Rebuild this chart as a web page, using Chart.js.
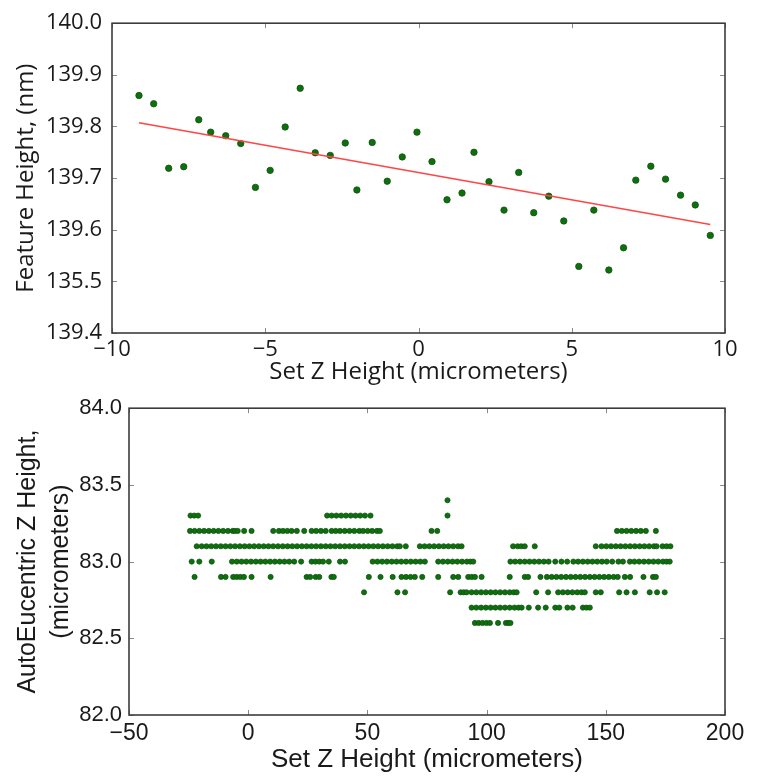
<!DOCTYPE html>
<html lang="en">
<head>
<meta charset="UTF-8">
<title>Z height charts</title>
<script src="https://cdn.jsdelivr.net/npm/chart.js"></script>
<style>
  body { margin: 0; background: #fff; }
  canvas { display: block; }
</style>
</head>
<body>
<canvas id="topChart" width="760" height="388"></canvas>
<canvas id="bottomChart" width="760" height="388"></canvas>

<script>
// ---- top panel: feature height vs set Z ----
const topX = [-9.12, -8.64, -8.15, -7.66, -7.17, -6.78, -6.29, -5.80, -5.32, -4.84,
  -4.35, -3.86, -3.37, -2.88, -2.39, -2.01, -1.51, -1.02, -0.53, -0.05,
  0.44, 0.93, 1.42, 1.81, 2.30, 2.79, 3.27, 3.76, 4.25, 4.74,
  5.23, 5.72, 6.21, 6.69, 7.09, 7.58, 8.06, 8.55, 9.03, 9.52]
const topY = [139.860, 139.844, 139.719, 139.722, 139.813, 139.789, 139.782, 139.767, 139.682, 139.715,
  139.799, 139.874, 139.749, 139.744, 139.768, 139.677, 139.769, 139.694, 139.741, 139.789,
  139.732, 139.658, 139.671, 139.750, 139.693, 139.638, 139.711, 139.633, 139.665, 139.617,
  139.529, 139.638, 139.522, 139.565, 139.696, 139.723, 139.698, 139.667, 139.648, 139.589]
const fitX = [-9.12, 9.52]
const fitY = [139.807, 139.610]

const topXTickVals = [-10, -5, 0, 5, 10]
const topXTickLabels = ['\u221210', '\u22125', '0', '5', '10']
const topYTickVals = [139.4, 139.5, 139.6, 139.7, 139.8, 139.9, 140.0]
const topYTickLabels = ['139.4', '135.5', '139.6', '139.7', '139.8', '139.9', '140.0']

// ---- bottom panel: AutoEucentric Z height, one list of set-Z values per height level ----
const levels = [83.4, 83.3, 83.2, 83.1, 83.0, 82.9, 82.8, 82.7, 82.6]
const lvl834 = [83.6]
const lvl833 = [-24.2, -22.6, -21, 33.1, 35, 37, 39, 41, 43, 45, 47, 49, 51.3, 83.6]
const lvl832 = [-24.4, -22.5, -20.5, -18.5, -16.5, -14.5, -12.5, -10.5, -8.5, -6.5, -5.6, -4.4, -1.7, 1.4,
  10.5, 12.9, 14.6, 16.4, 18.2, 20.4, 23.5, 26.6, 28.5, 30.5, 32.5, 35, 36.7, 38.5, 40.5, 42.5, 44.5, 46.6,
  48.2, 50.1, 52, 54, 55.2, 76.9, 79.3, 154.7, 156.7, 158.7, 160.7, 162.7, 164.7, 166.8, 171]
const lvl831 = [-21.6, -19.5, -17.5, -15.5, -13.5, -11.5, -9.5, -7.5, -5.5, -3.5, -1.5, 0.5, 2.5, 4.5, 6.5,
  8.5, 10.5, 12.5, 14.5, 16.5, 18.5, 20.5, 22.5, 24.5, 26.5, 28.5, 30.5, 32.5, 34.5, 36.5, 38.5, 40.5, 42.5,
  44.5, 46.5, 48.5, 50.5, 52.5, 54.5, 56.5, 58.5, 60.5, 62.5, 63.6, 66.1, 72, 74, 76, 78, 80, 82, 84, 86, 88,
  89.5, 111.1, 113, 114.5, 116, 120.2, 145.8, 148.2, 150.2, 152.2, 154.2, 156.2, 158.2, 160.2, 162.2, 164.2,
  166.2, 168.2, 170.2, 171.3, 173.8, 175.5, 177.1]
const lvl830 = [-23.7, -20.5, -15.3, -6.8, -4.8, -2.8, -0.8, 1.2, 3.2, 5.2, 7.2, 9.2, 11.2, 13.2, 15.2, 17.2,
  19.3, 22.2, 26.6, 28.2, 29.8, 31.4, 33.8, 38.5, 40.6, 52.2, 54.2, 56.2, 58.2, 60.2, 62.2, 64.2, 66.2, 68.2,
  70.2, 72.2, 74.1, 79.7, 81.7, 83.7, 85.7, 87.7, 89.7, 91.7, 93.2, 94.4, 110, 112, 114, 116, 118, 120, 122,
  124, 126, 128.8, 131.4, 133.8, 136.4, 138.4, 140.4, 142.4, 144.4, 146.4, 148.4, 150.4, 152.7, 155.3, 157.2,
  160.1, 162, 164, 166, 168, 170, 172, 174, 175.5, 176.8]
const lvl829 = [-22.5, -11.4, -9.5, -6.3, -4.8, -3.3, -1.8, 1.4, 9.4, 24.5, 26, 28.3, 29.8, 34.9, 35.9, 50.6,
  55.5, 60.6, 64.3, 66.2, 68.1, 69.9, 73, 79.7, 86, 88.1, 92.3, 93.7, 95.1, 97.9, 109.7, 116, 117.4, 122.6,
  125.3, 127.3, 129.3, 131.3, 133.3, 135.3, 137.3, 139.3, 141.3, 143.3, 145.3, 147.3, 149.3, 151.3, 153.3,
  155, 158, 160.2, 165.8, 169.8, 171]
const lvl828 = [48.6, 62.6, 65.8, 84.7, 89.1, 90.4, 91.6, 93.7, 95.7, 97.7, 99.7, 101.7, 103.7, 105.7, 107.7,
  109.7, 111.4, 112.6, 120.8, 125.8, 130, 132, 134, 136, 138, 139.8, 141.2, 145.8, 147.9, 155.6, 158.7, 162.2,
  168.4, 171.5, 174.7]
const lvl827 = [93.7, 95.7, 97.7, 99.7, 101.7, 103.7, 105.7, 107.7, 109.7, 111.7, 113.4, 114.7, 117.7, 121.6,
  124.8, 128.8, 130.5, 133.9, 136.1, 140.4, 141.9, 143.3]
const lvl826 = [95.1, 96.7, 98.3, 99.9, 101.4, 104.8, 108.1, 109.1, 110]
const levelLists = [lvl834, lvl833, lvl832, lvl831, lvl830, lvl829, lvl828, lvl827, lvl826]

const botXTickVals = [-50, 0, 50, 100, 150, 200]
const botXTickLabels = ['\u221250', '0', '50', '100', '150', '200']
const botYTickVals = [82.0, 82.5, 83.0, 83.5, 84.0]
const botYTickLabels = ['82.0', '82.5', '83.0', '83.5', '84.0']

// box around plot area plus small inward tick marks (matplotlib look)
const framePlugin = {
  id: 'frame',
  afterDatasetsDraw(chart) {
    const {ctx, chartArea: a, scales} = chart
    ctx.save()
    ctx.strokeStyle = '#8a8a8a'
    ctx.lineWidth = 1
    const len = 5
    scales.x.ticks.forEach(t => {
      const px = Math.round(scales.x.getPixelForValue(t.value)) + 0.5
      ctx.beginPath()
      ctx.moveTo(px, a.bottom); ctx.lineTo(px, a.bottom - len)
      ctx.moveTo(px, a.top); ctx.lineTo(px, a.top + len)
      ctx.stroke()
    })
    scales.y.ticks.forEach(t => {
      const py = Math.round(scales.y.getPixelForValue(t.value)) + 0.5
      ctx.beginPath()
      ctx.moveTo(a.left, py); ctx.lineTo(a.left + len, py)
      ctx.moveTo(a.right, py); ctx.lineTo(a.right - len, py)
      ctx.stroke()
    })
    ctx.strokeStyle = '#3c3c3c'
    ctx.lineWidth = 1.6
    ctx.strokeRect(a.left, a.top, a.right - a.left, a.bottom - a.top)
    ctx.restore()
  }
}

function fixedTicks(vals) {
  return scale => { scale.ticks = vals.map(v => ({value: v})) }
}

Chart.defaults.animation = false
Chart.defaults.color = '#1a1a1a'

// top chart
new Chart(document.getElementById('topChart'), {
  type: 'scatter',
  data: {
    datasets: [
      {
        type: 'line',
        data: fitX.map((x, i) => ({x: x, y: fitY[i]})),
        borderColor: '#ff4545',
        borderWidth: 1.5,
        pointRadius: 0,
        order: 0
      },
      {
        data: topX.map((x, i) => ({x: x, y: topY[i]})),
        backgroundColor: '#0b720b',
        borderColor: '#164d16',
        borderWidth: 0.8,
        pointRadius: 3.2,
        order: 1
      }
    ]
  },
  options: {
    responsive: false,
    layout: { padding: { left: 0, right: 35, top: 17, bottom: 0 } },
    plugins: { legend: { display: false }, tooltip: { enabled: false } },
    scales: {
      x: {
        type: 'linear', min: -10, max: 10,
        afterBuildTicks: fixedTicks(topXTickVals),
        afterFit: s => { s.height = 55 },
        grid: { display: false, drawTicks: false },
        border: { display: false },
        ticks: {
          padding: 4,
          font: { family: 'Open Sans', size: 22 },
          callback: (v, i) => topXTickLabels[i]
        },
        title: {
          display: true, text: 'Set Z Height (micrometers)',
          font: { family: 'Open Sans', size: 24 },
          padding: { top: 0, bottom: 1 }
        }
      },
      y: {
        min: 139.4, max: 140.0,
        afterBuildTicks: fixedTicks(topYTickVals),
        afterFit: s => { s.width = 112 },
        grid: { display: false, drawTicks: false },
        border: { display: false },
        ticks: {
          padding: 10,
          font: { family: 'Open Sans', size: 22 },
          callback: (v, i) => topYTickLabels[i]
        },
        title: {
          display: true, text: 'Feature Height, (nm)',
          font: { family: 'Open Sans', size: 24 },
          padding: { top: 12, bottom: 0 }
        }
      }
    }
  },
  plugins: [framePlugin]
})

// bottom chart
const botPoints = []
levels.forEach((lv, k) => {
  levelLists[k].forEach(x => botPoints.push({x: x, y: lv}))
})

new Chart(document.getElementById('bottomChart'), {
  type: 'scatter',
  data: {
    datasets: [{
      data: botPoints,
      backgroundColor: '#0b720b',
      borderColor: '#164d16',
      borderWidth: 0.7,
      pointRadius: 2.6
    }]
  },
  options: {
    responsive: false,
    layout: { padding: { left: 0, right: 35, top: 20, bottom: 0 } },
    plugins: { legend: { display: false }, tooltip: { enabled: false } },
    scales: {
      x: {
        type: 'linear', min: -50, max: 200,
        afterBuildTicks: fixedTicks(botXTickVals),
        afterFit: s => { s.height = 61 },
        grid: { display: false, drawTicks: false },
        border: { display: false },
        ticks: {
          padding: 5,
          font: { family: 'Liberation Sans', size: 23 },
          callback: (v, i) => botXTickLabels[i]
        },
        title: {
          display: true, text: 'Set Z Height (micrometers)',
          font: { family: 'Liberation Sans', size: 26 },
          padding: { top: 0, bottom: 1 }
        }
      },
      y: {
        min: 82, max: 84,
        afterBuildTicks: fixedTicks(botYTickVals),
        afterFit: s => { s.width = 129 },
        grid: { display: false, drawTicks: false },
        border: { display: false },
        ticks: {
          padding: 7,
          font: { family: 'Liberation Sans', size: 22 },
          callback: (v, i) => botYTickLabels[i]
        },
        title: {
          display: true, text: ['AutoEucentric Z Height,', '(micrometers)'],
          font: { family: 'Liberation Sans', size: 25, lineHeight: 1.3 },
          padding: { top: 12, bottom: 0 }
        }
      }
    }
  },
  plugins: [framePlugin]
})
</script>
</body>
</html>
